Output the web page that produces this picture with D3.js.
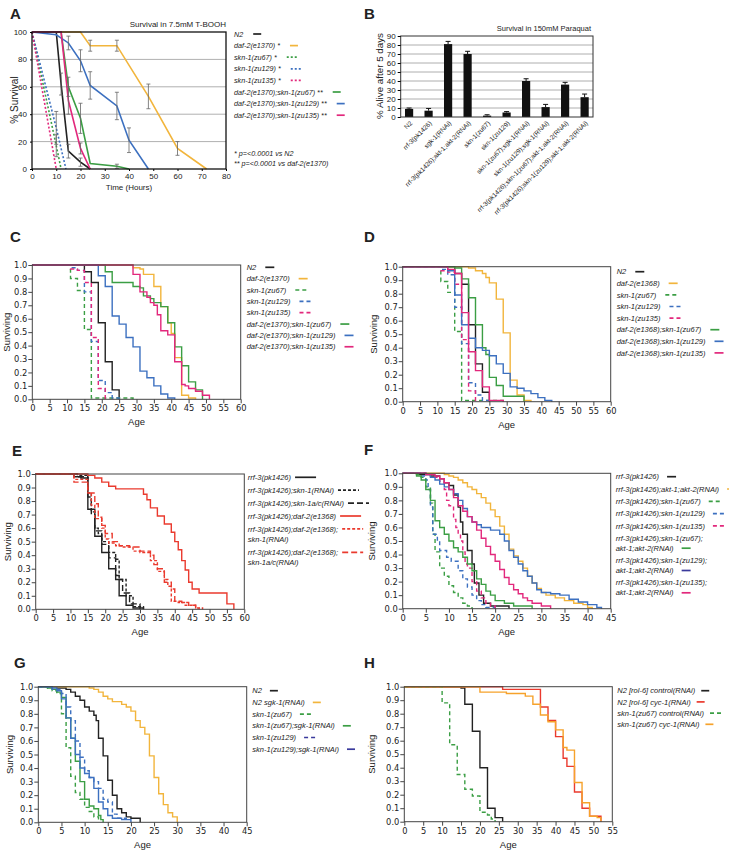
<!DOCTYPE html>
<html><head><meta charset="utf-8">
<script src="https://cdn.jsdelivr.net/npm/d3@7"></script>
<style>
body{margin:0;background:#fff;}
svg{display:block;}
text{font-family:"Liberation Sans",Arial,sans-serif;fill:#222;}
.km .tick text{font-family:"DejaVu Sans",sans-serif;}
</style></head><body><div id="fig"></div>
<script>
// ---------- colours ----------
var BLACK="#222", YELLOW="#f2b53c", GREEN="#3b9e44", BLUE="#3c70c0", PINK="#e2287c",
    RED="#ea3a2e", ORANGE="#f6a22b", NAVY="#3a3a9c";

// ---------- panel A : % survival in T-BOOH  [hours, %, sd] ----------
var aN2        = [[10,100,0],[12,62,8],[15,13,5],[20,5,3],[24,0,0]];
var aDaf2      = [[0,100,0],[20,100,0],[24,90,4],[35,90,4],[48,53,9],[60,15,5],[72,0,0]];
var aSkn67     = [[0,100,0],[10,17,8],[12,0,0]];
var aSkn129    = [[0,100,0],[10,30,12],[14,0,0]];
var aSkn135    = [[0,100,0],[10,0,0]];
var aDaf2Skn67 = [[0,100,0],[12,100,0],[15,60,7],[20,37,11],[24,4,0],[35,2,1.5],[40,0,0]];
var aDaf2Skn129= [[0,100,0],[10,98,0],[15,92,5],[20,79,8],[24,61,10],[35,46,10],[40,21,9],[48,0,0]];
var aDaf2Skn135= [[0,100,0],[12,100,0],[15,50,10],[20,15,4],[24,0,0]];
var aLabels = ["N2","daf-2(e1370) *","skn-1(zu67) *","skn-1(zu129) *","skn-1(zu135) *",
               "daf-2(e1370);skn-1(zu67) **","daf-2(e1370);skn-1(zu129) **","daf-2(e1370);skn-1(zu135) **"];
var aNotes = ["* p=<0.0001 vs N2","** p=<0.0001 vs daf-2(e1370)"];

// ---------- panel B : % alive after 5 days in paraquat ----------
var bCats = ["N2","rrf-3(pk1426)","sgk-1(RNAi)","rrf-3(pk1426);akt-1;akt-2(RNAi)","skn-1(zu67)",
             "skn-1(zu129)","skn-1(zu67);sgk-1(RNAi)","skn-1(zu129);sgk-1(RNAi)",
             "rrf-3(pk1426);skn-1(zu67);akt-1;akt-2(RNAi)","rrf-3(pk1426);skn-1(zu129);akt-1;akt-2(RNAi)"];
var bVals = [9,7,81,70,1.5,5,40,11,36,22];
var bErr  = [1,2.5,3,3,1,1,2.5,3,2.5,3.5];

// ---------- panel C : [age, fraction surviving] ----------
var cN2   = [[0,1],[15,0.95],[17,0.87],[19,0.57],[21,0.28],[23,0.07],[25,0]];
var cDaf2 = [[0,1],[29,0.98],[31,0.97],[32,0.93],[35,0.84],[37,0.69],[39,0.57],[40,0.49],[41,0.31],[43,0.03],[45,0.01],[47,0]];
var cSkn67  = [[0,1],[11,0.9],[13,0.81],[15,0.52],[17,0.01],[29,0]];
var cSkn129 = [[0,1],[11,0.98],[13,0.96],[15,0.8],[17,0.43],[19,0.14],[21,0.05],[23,0.01],[25,0]];
var cSkn135 = [[0,1],[11,0.97],[13,0.96],[15,0.87],[17,0.46],[19,0.08],[21,0]];
var cDaf2Skn67  = [[0,1],[21,0.95],[23,0.87],[29,0.84],[31,0.83],[32,0.77],[34,0.75],[35,0.72],[37,0.69],[39,0.57],[41,0.39],[43,0.25],[45,0.13],[47,0.07],[49,0]];
var cDaf2Skn129 = [[0,1],[19,0.92],[21,0.84],[23,0.62],[25,0.56],[27,0.46],[29,0.39],[31,0.21],[33,0.16],[35,0.1],[37,0.04],[39,0.01],[41,0]];
var cDaf2Skn135 = [[0,1],[29,0.93],[31,0.8],[33,0.76],[34,0.72],[35,0.7],[36,0.63],[37,0.51],[39,0.48],[41,0.28],[43,0.11],[44,0.1],[45,0.08],[47,0.06],[49,0.03],[51,0]];
var cLabels = ["N2","daf-2(e1370)","skn-1(zu67)","skn-1(zu129)","skn-1(zu135)",
               "daf-2(e1370);skn-1(zu67)","daf-2(e1370);skn-1(zu129)","daf-2(e1370);skn-1(zu135)"];

// ---------- panel D ----------
var dN2   = [[0,1],[15,0.95],[17,0.87],[19,0.57],[21,0.28],[23,0.07],[25,0]];
var dDaf2 = [[0,1],[19,0.99],[21,0.97],[23,0.95],[24,0.92],[25,0.88],[27,0.76],[29,0.51],[31,0.16],[33,0.05],[35,0.01],[37,0]];
var dSkn67  = [[0,1],[11,0.89],[13,0.81],[15,0.52],[17,0.01],[29,0]];
var dSkn129 = [[0,1],[11,0.98],[13,0.94],[15,0.7],[17,0.43],[19,0.14],[21,0.05],[23,0.01],[25,0]];
var dSkn135 = [[0,1],[11,0.97],[13,0.96],[15,0.87],[17,0.46],[19,0.08],[21,0]];
var dDaf2Skn67  = [[0,1],[15,0.99],[17,0.91],[19,0.77],[21,0.57],[23,0.4],[24,0.35],[25,0.18],[27,0.12],[29,0.04],[35,0]];
var dDaf2Skn129 = [[0,1],[13,0.97],[15,0.79],[17,0.57],[19,0.47],[21,0.4],[23,0.38],[25,0.34],[27,0.28],[29,0.21],[31,0.11],[33,0.1],[35,0.08],[37,0.06],[39,0.03],[41,0.01],[43,0]];
var dDaf2Skn135 = [[0,1],[13,0.98],[15,0.95],[17,0.66],[19,0.37],[21,0.23],[23,0.11],[25,0.01],[29,0]];
var dLabels = ["N2","daf-2(e1368)","skn-1(zu67)","skn-1(zu129)","skn-1(zu135)",
               "daf-2(e1368);skn-1(zu67)","daf-2(e1368);skn-1(zu129)","daf-2(e1368);skn-1(zu135)"];

// ---------- panel E ----------
var eRrf3     = [[0,1],[11,0.98],[13,0.97],[15,0.74],[17,0.54],[19,0.42],[21,0.3],[23,0.22],[24,0.1],[26,0.03],[28,0.01],[31,0]];
var eSkn1     = [[0,1],[12,0.99],[15,0.86],[16,0.72],[17,0.6],[18,0.56],[19,0.5],[21,0.42],[23,0.37],[24,0.22],[26,0.1],[28,0.02],[31,0]];
var eSkn1ac   = [[0,1],[12,0.98],[15,0.83],[16,0.7],[17,0.58],[19,0.48],[21,0.38],[23,0.25],[24,0.22],[25,0.12],[27,0.04],[30,0]];
var eDaf2     = [[0,1],[15,0.99],[17,0.97],[19,0.94],[21,0.91],[23,0.89],[31,0.85],[32,0.81],[33,0.75],[35,0.69],[37,0.63],[39,0.57],[40,0.5],[41,0.44],[42,0.36],[43,0.29],[44,0.2],[45,0.15],[47,0.12],[55,0.04],[57,0]];
var eDaf2Skn1 = [[0,1],[11,0.96],[15,0.86],[16,0.77],[17,0.67],[19,0.6],[20,0.52],[21,0.49],[23,0.47],[25,0.46],[28,0.43],[30,0.42],[33,0.36],[35,0.28],[37,0.22],[38,0.17],[39,0.06],[41,0.05],[43,0.03],[46,0.01],[48,0]];
var eDaf2Skn1ac=[[0,1],[11,0.94],[15,0.86],[17,0.78],[18,0.68],[19,0.62],[20,0.56],[22,0.5],[24,0.47],[27,0.46],[30,0.43],[33,0.4],[34,0.33],[35,0.3],[37,0.2],[39,0.15],[40,0.06],[42,0.05],[44,0.03],[46,0.01],[47,0]];
var eLabels = [["rrf-3(pk1426)"],["rrf-3(pk1426);skn-1(RNAi)"],["rrf-3(pk1426);skn-1a/c(RNAi)"],
               ["rrf-3(pk1426);daf-2(e1368)"],["rrf-3(pk1426);daf-2(e1368);","skn-1(RNAi)"],
               ["rrf-3(pk1426);daf-2(e1368);","skn-1a/c(RNAi)"]];

// ---------- panel F ----------
var fRrf3 = [[0,1],[3,0.99],[6,0.98],[8,0.96],[9,0.93],[10,0.91],[11,0.84],[12,0.75],[12.5,0.64],[13,0.55],[14,0.43],[15,0.33],[15.5,0.19],[16.5,0.1],[17.5,0.04],[19,0.02],[23,0]];
var fAkt  = [[0,1],[9,0.99],[10,0.98],[11,0.97],[12,0.95],[13,0.93],[14,0.9],[15,0.88],[16,0.85],[17,0.82],[18,0.78],[19,0.73],[20,0.68],[21,0.61],[22,0.55],[23,0.44],[24,0.39],[25,0.35],[26,0.3],[27,0.24],[28,0.19],[29,0.15],[30,0.12],[31,0.1],[33,0.08],[35,0.06],[37,0.04],[39,0.03],[40,0.01],[41,0]];
var fSkn67  = [[0,1],[3,0.99],[4,0.97],[5,0.9],[6,0.78],[6.5,0.55],[7,0.42],[8,0.3],[9,0.24],[10,0.17],[11,0.12],[12,0.08],[13,0.04],[14,0.02],[15,0]];
var fSkn129 = [[0,1],[4,0.98],[5,0.95],[5.5,0.88],[6,0.75],[6.5,0.55],[7.5,0.5],[8,0.43],[9.5,0.38],[10.5,0.35],[12,0.28],[13,0.22],[14,0.16],[15,0.1],[16,0.06],[17,0.03],[18,0.01],[20,0]];
var fSkn135 = [[0,1],[5,0.99],[7,0.97],[8,0.94],[9,0.88],[9.5,0.8],[10,0.76],[11,0.66],[11.5,0.6],[12,0.55],[12.5,0.5],[13,0.42],[13.5,0.33],[14,0.3],[15,0.2],[16,0.13],[17,0.08],[18,0.04],[19,0.02],[20,0]];
var fSkn67Akt  = [[0,1],[3,0.98],[4,0.95],[5,0.88],[6,0.8],[7,0.65],[8,0.6],[9,0.55],[10,0.5],[11,0.45],[12,0.42],[13,0.38],[14,0.33],[15,0.28],[16,0.22],[17,0.18],[18,0.13],[19,0.1],[20,0.06],[22,0.04],[24,0.02],[28,0]];
var fSkn129Akt = [[0,1],[5,0.99],[6,0.97],[7,0.95],[8,0.92],[9,0.9],[10,0.88],[11,0.85],[12,0.8],[13,0.74],[14,0.68],[15,0.64],[16,0.62],[17,0.6],[19,0.58],[21,0.55],[22,0.5],[23,0.43],[24,0.38],[25,0.33],[26,0.28],[27,0.24],[28,0.19],[29,0.14],[30,0.12],[32,0.11],[34,0.1],[36,0.07],[38,0.05],[40,0.03],[42,0.01],[43,0]];
var fSkn135Akt = [[0,1],[5,0.99],[7,0.98],[8,0.96],[9,0.93],[10,0.88],[11,0.82],[12,0.76],[13,0.72],[14,0.68],[15,0.64],[16,0.58],[17,0.52],[18,0.46],[19,0.4],[20,0.35],[21,0.29],[22,0.23],[23,0.18],[24,0.14],[25,0.11],[26,0.08],[27,0.06],[28,0.04],[30,0.02],[32,0]];
var fLabels = [["rrf-3(pk1426)"],["rrf-3(pk1426);akt-1;akt-2(RNAi)"],["rrf-3(pk1426);skn-1(zu67)"],
               ["rrf-3(pk1426);skn-1(zu129)"],["rrf-3(pk1426);skn-1(zu135)"],
               ["rrf-3(pk1426);skn-1(zu67);","akt-1;akt-2(RNAi)"],
               ["rrf-3(pk1426);skn-1(zu129);","akt-1;akt-2(RNAi)"],
               ["rrf-3(pk1426);skn-1(zu135);","akt-1;akt-2(RNAi)"]];

// ---------- panel G ----------
var gN2  = [[0,1],[4,0.99],[6,0.98],[7,0.96],[8,0.93],[9,0.9],[10,0.85],[11,0.82],[12,0.79],[12.5,0.75],[13,0.62],[14,0.49],[15,0.31],[16,0.2],[17,0.1],[18,0.07],[19,0.04],[20,0.03],[22,0]];
var gSgk = [[0,1],[11,0.99],[12,0.98],[13,0.96],[14,0.93],[15,0.91],[16,0.89],[18,0.87],[19,0.85],[20,0.82],[21,0.75],[22,0.7],[23,0.65],[24,0.49],[25,0.33],[26,0.21],[27,0.13],[28,0.07],[29,0.04],[30,0]];
var gSkn67    = [[0,1],[2,0.99],[3,0.97],[4,0.95],[5,0.8],[6,0.55],[7,0.34],[8,0.22],[9,0.17],[10,0.11],[11,0.08],[12,0.04],[13,0]];
var gSkn67Sgk = [[0,1],[2,0.99],[3,0.98],[4,0.96],[5,0.92],[6,0.77],[7,0.62],[8,0.45],[9,0.3],[10,0.17],[11,0.12],[12,0.1],[13,0.05],[13.5,0.02],[14,0]];
var gSkn129   = [[0,1],[3,0.98],[5,0.95],[6,0.85],[7,0.75],[8,0.6],[9,0.48],[10,0.38],[11,0.33],[12,0.3],[13,0.25],[14,0.17],[15,0.15],[16,0.06],[17,0.03],[19,0]];
var gSkn129Sgk= [[0,1],[3,0.99],[4,0.97],[5,0.91],[6,0.77],[7,0.62],[8,0.5],[9,0.4],[10,0.36],[11,0.33],[12,0.25],[13,0.15],[14,0.1],[15,0.05],[16,0.03],[18,0.02],[20,0]];
var gLabels = ["N2","N2 sgk-1(RNAi)","skn-1(zu67)","skn-1(zu67);sgk-1(RNAi)","skn-1(zu129)","skn-1(zu129);sgk-1(RNAi)"];

// ---------- panel H ----------
var hN2      = [[0,1],[15,0.99],[16,0.87],[18,0.67],[20,0.4],[22,0.1],[24,0.03],[26,0]];
var hN2Cyc   = [[0,1],[26,0.98],[36,0.85],[38,0.75],[40,0.63],[42,0.47],[43,0.41],[45,0.22],[47,0.1],[49,0.04],[52,0]];
var hSkn67   = [[0,1],[10,0.88],[12,0.57],[14,0.35],[16,0.24],[18,0.19],[20,0.07],[22,0.05],[23,0.02],[24,0]];
var hSkn67Cyc= [[0,1],[20,0.96],[27,0.95],[32,0.93],[34,0.87],[36,0.79],[38,0.74],[40,0.68],[42,0.55],[43,0.53],[45,0.29],[47,0.14],[49,0.04],[51,0.03],[52,0]];
var hLabels = ["N2 [rol-6] control(RNAi)","N2 [rol-6] cyc-1(RNAi)","skn-1(zu67) control(RNAi)","skn-1(zu67) cyc-1(RNAi)"];

// =====================================================================
var svg = d3.select("#fig").append("svg").attr("width",729).attr("height",854);
svg.append("rect").attr("width",729).attr("height",854).attr("fill","#fff");

function one(l){ return typeof l === "string" ? [l] : l; }

function legend(labels, styles, o){
  var yy = o.y0;
  labels.forEach(function(lab,i){
    var lines = one(lab), st = styles[i];
    var si = o.sampleLast ? lines.length-1 : 0;
    lines.forEach(function(t,j){
      var ty = yy + j*o.lineStep;
      var tx = svg.append("text").attr("x",o.x).attr("y",ty).attr("dy","0.35em")
        .style("font-size",o.fs+"px").style("font-style","italic").text(t);
      if (j === si){
        var w = tx.node().getComputedTextLength();
        var sw = st.d ? (o.swd || o.sw) : o.sw;
        svg.append("line").attr("x1",o.x+w+o.gap).attr("x2",o.x+w+o.gap+sw)
          .attr("y1",ty).attr("y2",ty).attr("stroke",st.lc||st.c).attr("stroke-width",1.7)
          .attr("stroke-dasharray",st.d||null);
      }
    });
    yy += o.step + (lines.length-1)*o.lineStep;
  });
}

function panelLetter(t,x,y){
  svg.append("text").attr("x",x).attr("y",y).style("font-size","15px").style("font-weight","bold").text(t);
}

// ---------- A ----------
(function(){
  var x = d3.scaleLinear().domain([0,80]).range([32,226]);
  var y = d3.scaleLinear().domain([0,100]).range([169,32]);
  var g = svg.append("g");
  [20,40,60,80].forEach(function(v){
    g.append("line").attr("x1",x(0)).attr("x2",x(80)).attr("y1",y(v)).attr("y2",y(v))
      .attr("stroke","#b0b0b0").attr("stroke-width",1);
  });
  var series = [aN2,aDaf2,aSkn67,aSkn129,aSkn135,aDaf2Skn67,aDaf2Skn129,aDaf2Skn135];
  var st = [{c:BLACK},{c:YELLOW},{c:GREEN,d:"2,2"},{c:BLUE,d:"2,2"},{c:PINK,d:"2,2"},{c:GREEN},{c:BLUE},{c:PINK}];
  var line = d3.line().x(function(d){return x(d[0]);}).y(function(d){return y(d[1]);});
  series.forEach(function(s,i){
    g.append("path").attr("d",line(s)).attr("fill","none").attr("stroke",st[i].c)
      .attr("stroke-width",1.6).attr("stroke-dasharray",st[i].d||null);
  });
  series.forEach(function(s){
    s.filter(function(d){return d[2]>0;}).forEach(function(d){
      var cx = x(d[0]);
      g.append("line").attr("x1",cx).attr("x2",cx).attr("y1",y(d[1]-d[2])).attr("y2",y(d[1]+d[2])).attr("stroke","#666").attr("stroke-width",0.8);
      [d[1]-d[2],d[1]+d[2]].forEach(function(v){
        g.append("line").attr("x1",cx-2).attr("x2",cx+2).attr("y1",y(v)).attr("y2",y(v)).attr("stroke","#666").attr("stroke-width",0.8);
      });
    });
  });
  g.append("rect").attr("x",x(0)).attr("y",y(100)).attr("width",x(80)-x(0)).attr("height",y(0)-y(100))
    .attr("fill","none").attr("stroke","#111").attr("stroke-width",1.3);
  var xa = g.append("g").attr("transform","translate(0,169)")
    .call(d3.axisBottom(x).tickValues(d3.range(0,81,10)).tickSize(2).tickPadding(2));
  var ya = g.append("g").attr("transform","translate(32,0)")
    .call(d3.axisLeft(y).tickValues(d3.range(0,101,20)).tickSize(2).tickPadding(3));
  [xa,ya].forEach(function(a){ a.select(".domain").remove(); a.selectAll("text").style("font-size","8px").style("fill","#222"); });
  svg.append("text").attr("x",226).attr("y",27).attr("text-anchor","end").style("font-size","8px").text("Survival in 7.5mM T-BOOH");
  svg.append("text").attr("transform","translate(18,100) rotate(-90)").attr("text-anchor","middle").style("font-size","10px").text("% Survival");
  svg.append("text").attr("x",129).attr("y",190).attr("text-anchor","middle").style("font-size","8px").text("Time (Hours)");
  legend(aLabels, st, {x:234,y0:34,step:11.6,lineStep:10,fs:7.2,sw:8,swd:12,gap:10});
  aNotes.forEach(function(t,i){
    svg.append("text").attr("x",234).attr("y",153+i*10.5).attr("dy","0.35em").style("font-size","7.2px").style("font-style","italic").text(t);
  });
  panelLetter("A",10,19);
})();

// ---------- B ----------
(function(){
  var x = d3.scaleBand().domain(bCats).range([400.7,593]).paddingInner(0.58).paddingOuter(0.22);
  var y = d3.scaleLinear().domain([0,90]).range([117,36]);
  var g = svg.append("g");
  d3.range(10,90,10).forEach(function(v){
    g.append("line").attr("x1",400.7).attr("x2",593).attr("y1",y(v)).attr("y2",y(v)).attr("stroke","#999").attr("stroke-width",0.8);
  });
  g.selectAll(".bar").data(bCats).enter().append("rect")
    .attr("x",function(d){return x(d);}).attr("width",x.bandwidth())
    .attr("y",function(d,i){return y(bVals[i]);}).attr("height",function(d,i){return y(0)-y(bVals[i]);})
    .attr("fill","#111");
  bCats.forEach(function(d,i){
    var cx = x(d)+x.bandwidth()/2, top = y(bVals[i]+bErr[i]);
    g.append("line").attr("x1",cx).attr("x2",cx).attr("y1",y(bVals[i])).attr("y2",top).attr("stroke","#111").attr("stroke-width",1);
    g.append("line").attr("x1",cx-2.5).attr("x2",cx+2.5).attr("y1",top).attr("y2",top).attr("stroke","#111").attr("stroke-width",1);
  });
  g.append("rect").attr("x",400.7).attr("y",36).attr("width",192.3).attr("height",81).attr("fill","none").attr("stroke","#333").attr("stroke-width",1);
  var ya = g.append("g").attr("transform","translate(400.7,0)")
    .call(d3.axisLeft(y).tickValues(d3.range(0,91,10)).tickSize(3).tickPadding(2));
  ya.select(".domain").remove();
  ya.selectAll("text").style("font-size","8px").style("fill","#222");
  bCats.forEach(function(d){
    var cx = x(d)+x.bandwidth()/2+2;
    g.append("text").attr("transform","translate("+cx+",122) rotate(-45)").attr("text-anchor","end")
      .attr("dy","0.35em").style("font-size","6.5px").text(d);
  });
  svg.append("text").attr("x",591).attr("y",31).attr("text-anchor","end").style("font-size","7.5px").text("Survival in 150mM Paraquat");
  svg.append("text").attr("transform","translate(383,76) rotate(-90)").attr("text-anchor","middle").style("font-size","9.8px").text("% Alive after 5 days");
  panelLetter("B",364,19);
})();

// ---------- Kaplan-Meier panels ----------
function drawKM(p){
  var x = d3.scaleLinear().domain([0,p.xmax]).range([p.x0,p.x1]);
  var y = d3.scaleLinear().domain([0,1]).range([p.y1,p.y0]);
  var g = svg.append("g").attr("class","km");
  var line = d3.line().x(function(d){return x(d[0]);}).y(function(d){return y(d[1]);}).curve(d3.curveStepAfter);
  p.series.forEach(function(s,i){
    g.append("path").attr("d",line(s)).attr("fill","none").attr("stroke",p.styles[i].c)
      .attr("stroke-width",1.4).attr("stroke-dasharray",p.styles[i].d||null);
  });
  g.append("rect").attr("x",p.x0).attr("y",p.y0).attr("width",p.x1-p.x0).attr("height",p.y1-p.y0)
    .attr("fill","none").attr("stroke","#444").attr("stroke-width",1);
  var xa = g.append("g").attr("transform","translate(0,"+p.y1+")")
    .call(d3.axisBottom(x).tickValues(d3.range(0,p.xmax+1,5)).tickSize(4).tickPadding(2));
  var ya = g.append("g").attr("transform","translate("+p.x0+",0)")
    .call(d3.axisLeft(y).tickValues(d3.range(0,11).map(function(i){return i/10;})).tickFormat(d3.format(".1f")).tickSize(4).tickPadding(1));
  [xa,ya].forEach(function(a){
    a.select(".domain").remove();
    a.selectAll("line").attr("stroke","#444");
    a.selectAll("text").style("font-size","8.3px").style("fill","#222");
  });
  svg.append("text").attr("x",(p.x0+p.x1)/2).attr("y",p.y1+26).attr("text-anchor","middle").style("font-size","9.5px").text("Age");
  svg.append("text").attr("transform","translate("+p.ylx+","+((p.y0+p.y1)/2)+") rotate(-90)")
    .attr("text-anchor","middle").style("font-size","9.5px").text("Surviving");
  legend(p.labels, p.styles, p.leg);
  panelLetter(p.letter,p.lx,p.ly);
}

var stCD = [{c:BLACK},{c:YELLOW},{c:GREEN,d:"4,3"},{c:BLUE,d:"4,3"},{c:PINK,d:"4,3"},{c:GREEN},{c:BLUE},{c:PINK}];

drawKM({letter:"C",lx:10,ly:242,x0:32.3,x1:240.7,y0:265,y1:399.3,xmax:60,ylx:9.5,
  series:[cN2,cDaf2,cSkn67,cSkn129,cSkn135,cDaf2Skn67,cDaf2Skn129,cDaf2Skn135],styles:stCD,labels:cLabels,
  leg:{x:246.7,y0:267.3,step:11.35,lineStep:10,fs:7.5,sw:9,swd:12,gap:9}});

drawKM({letter:"D",lx:364,ly:242,x0:402.7,x1:610.7,y0:266.7,y1:401.7,xmax:60,ylx:377,
  series:[dN2,dDaf2,dSkn67,dSkn129,dSkn135,dDaf2Skn67,dDaf2Skn129,dDaf2Skn135],styles:stCD,labels:dLabels,
  leg:{x:616.7,y0:271.7,step:11.6,lineStep:10,fs:7.5,sw:9,swd:12,gap:9}});

drawKM({letter:"E",lx:12,ly:456,x0:35.7,x1:244.3,y0:474,y1:609.3,xmax:60,ylx:11,
  series:[eRrf3,eSkn1,eSkn1ac,eDaf2,eDaf2Skn1,eDaf2Skn1ac],
  styles:[{c:BLACK},{c:BLACK,d:"3,2"},{c:BLACK,d:"6,3"},{c:RED},{c:RED,d:"3,2"},{c:RED,d:"6,3"}],labels:eLabels,
  leg:{x:247.7,y0:477.3,step:12.9,lineStep:10.5,fs:7.5,sw:21,gap:4}});

drawKM({letter:"F",lx:364,ly:455,x0:402.7,x1:610.7,y0:473.3,y1:608.7,xmax:45,ylx:375,
  series:[fRrf3,fAkt,fSkn67,fSkn129,fSkn135,fSkn67Akt,fSkn129Akt,fSkn135Akt],
  styles:[{c:BLACK},{c:YELLOW},{c:GREEN,d:"4,3"},{c:BLUE,d:"4,3"},{c:PINK,d:"4,3"},{c:GREEN},{c:BLUE,lc:NAVY},{c:PINK}],labels:fLabels,
  leg:{x:615.7,y0:476.7,step:12.3,lineStep:10,fs:7.5,sw:9,swd:12,gap:8,sampleLast:true}});

drawKM({letter:"G",lx:14,ly:668,x0:38.3,x1:246.7,y0:686.7,y1:822.3,xmax:45,ylx:13,
  series:[gN2,gSgk,gSkn67,gSkn67Sgk,gSkn129,gSkn129Sgk],
  styles:[{c:BLACK},{c:YELLOW},{c:GREEN,d:"4,3"},{c:GREEN},{c:BLUE,d:"4,3",lc:NAVY},{c:BLUE,lc:NAVY}],labels:gLabels,
  leg:{x:252.3,y0:690.7,step:11.7,lineStep:10,fs:7.5,sw:8,swd:11,gap:8}});

drawKM({letter:"H",lx:364,ly:668,x0:404.3,x1:612.3,y0:686.7,y1:821.7,xmax:55,ylx:375,
  series:[hN2,hN2Cyc,hSkn67,hSkn67Cyc],
  styles:[{c:BLACK},{c:RED},{c:GREEN,d:"4,3"},{c:ORANGE}],labels:hLabels,
  leg:{x:617.3,y0:690.7,step:11.2,lineStep:10,fs:7.5,sw:8,swd:11,gap:6}});
</script></body></html>
